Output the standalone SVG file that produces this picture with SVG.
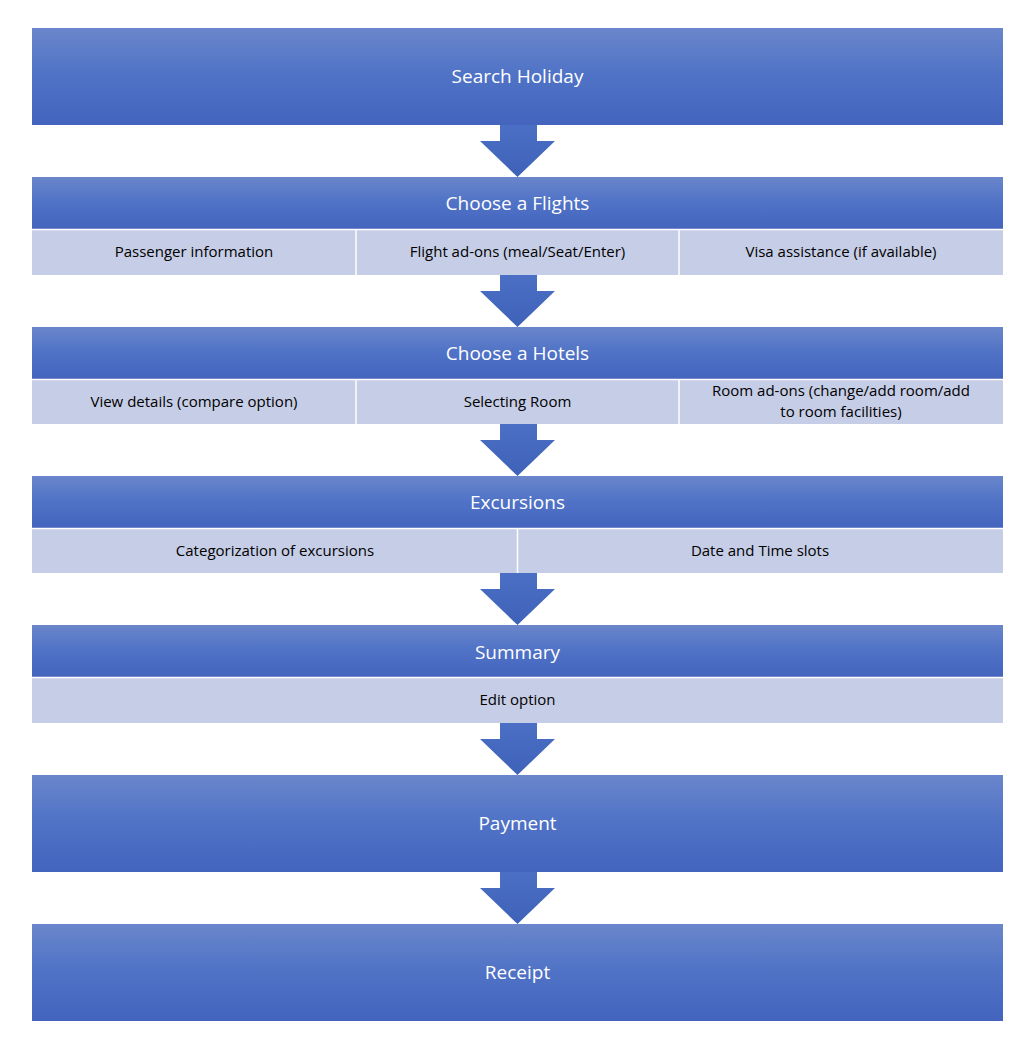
<svg xmlns="http://www.w3.org/2000/svg" width="1030" height="1050" viewBox="0 0 1030 1050">
<defs>
<linearGradient id="g" x1="0" y1="0" x2="0" y2="1"><stop offset="0" stop-color="#6a86cb"/><stop offset="0.5" stop-color="#4f72c6"/><stop offset="1" stop-color="#4464bd"/></linearGradient>
<linearGradient id="ga" x1="0" y1="0" x2="0" y2="1"><stop offset="0" stop-color="#4a6fc4"/><stop offset="1" stop-color="#3f62b8"/></linearGradient>
<style>
.h{fill:url(#g)}
.s{fill:#c6cde6}
.d{stroke:#fff;stroke-width:1.5}
.t{font-family:"Open Sans","Liberation Sans",sans-serif;fill:#fff;font-size:19px;text-anchor:middle}
.u{font-family:"Open Sans","Liberation Sans",sans-serif;fill:#000;font-size:15px;text-anchor:middle}
.a{fill:url(#ga)}
</style>
</defs>
<rect width="1030" height="1050" fill="#fff"/>
<g id="connectors">
<path class="a" d="M500 125H537V141H555L517.5 177L480 141H500Z"/>
<path class="a" d="M500 275H537V291H555L517.5 327L480 291H500Z"/>
<path class="a" d="M500 424H537V440H555L517.5 476L480 440H500Z"/>
<path class="a" d="M500 573H537V589H555L517.5 625L480 589H500Z"/>
<path class="a" d="M500 723H537V739H555L517.5 775L480 739H500Z"/>
<path class="a" d="M500 872H537V888H555L517.5 924L480 888H500Z"/>
</g>
<g id="search"><rect class="h" x="32" y="28" width="971" height="97"/><text class="t" x="517.5" y="83">Search Holiday</text></g>
<g id="flights"><rect class="h" x="32" y="177" width="971" height="52"/><text class="t" x="517.5" y="210">Choose a Flights</text>
<rect class="s" x="32" y="229" width="971" height="46"/><line class="d" x1="356" y1="229" x2="356" y2="275"/><line class="d" x1="679" y1="229" x2="679" y2="275"/><line class="d" x1="32" y1="229.5" x2="1003" y2="229.5"/>
<text class="u" x="194" y="257">Passenger information</text><text class="u" x="517.5" y="257">Flight ad-ons (meal/Seat/Enter)</text><text class="u" x="841" y="257">Visa assistance (if available)</text></g>
<g id="hotels"><rect class="h" x="32" y="327" width="971" height="52"/><text class="t" x="517.5" y="360">Choose a Hotels</text>
<rect class="s" x="32" y="379" width="971" height="45"/><line class="d" x1="356" y1="379" x2="356" y2="424"/><line class="d" x1="679" y1="379" x2="679" y2="424"/><line class="d" x1="32" y1="379.5" x2="1003" y2="379.5"/>
<text class="u" x="194" y="407">View details (compare option)</text><text class="u" x="517.5" y="407">Selecting Room</text><text class="u" x="841" y="396">Room ad-ons  (change/add room/add</text><text class="u" x="841" y="417">to room facilities)</text></g>
<g id="excursions"><rect class="h" x="32" y="476" width="971" height="52"/><text class="t" x="517.5" y="509">Excursions</text>
<rect class="s" x="32" y="528" width="971" height="45"/><line class="d" x1="517.5" y1="528" x2="517.5" y2="573"/><line class="d" x1="32" y1="528.5" x2="1003" y2="528.5"/>
<text class="u" x="275" y="556">Categorization of excursions</text><text class="u" x="760" y="556">Date and Time slots</text></g>
<g id="summary"><rect class="h" x="32" y="625" width="971" height="52"/><text class="t" x="517.5" y="659">Summary</text>
<rect class="s" x="32" y="677" width="971" height="46"/><line class="d" x1="32" y1="677.5" x2="1003" y2="677.5"/>
<text class="u" x="517.5" y="705">Edit option</text></g>
<g id="payment"><rect class="h" x="32" y="775" width="971" height="97"/><text class="t" x="517.5" y="830">Payment</text></g>
<g id="receipt"><rect class="h" x="32" y="924" width="971" height="97"/><text class="t" x="517.5" y="979">Receipt</text></g>
</svg>
